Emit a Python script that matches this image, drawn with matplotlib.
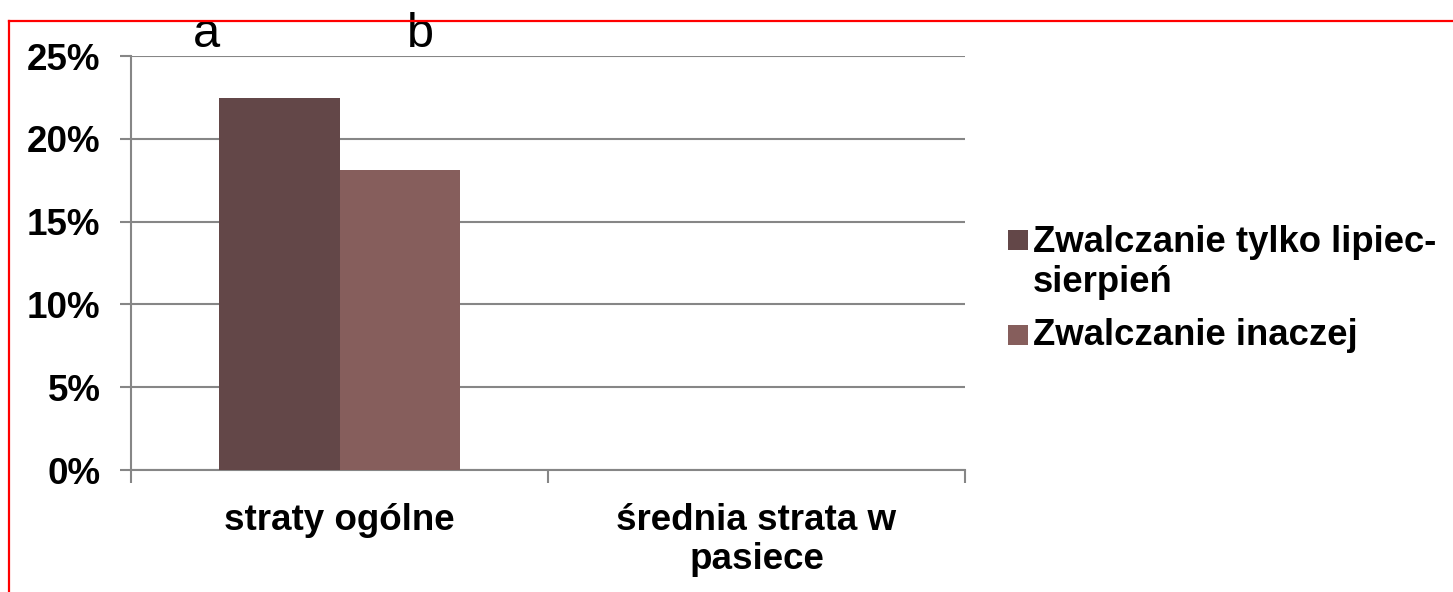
import matplotlib
matplotlib.use("Agg")
import matplotlib.pyplot as plt
from matplotlib.patches import Rectangle
from matplotlib.lines import Line2D
from matplotlib.ticker import FuncFormatter
import numpy as np

# dane
categories = ["straty ogólne", "średnia strata w\npasiece"]
series_names = ["Zwalczanie tylko lipiec-\nsierpień", "Zwalczanie inaczej"]
series_values = [[0.2245, 0.0], [0.181, 0.0]]
series_colors = ["#634748", "#865e5c"]
letters = ["a", "b"]
letter_pos = [(-0.318, 0.2555), (0.195, 0.2555)]
y_ticks = [0, 0.05, 0.10, 0.15, 0.20, 0.25]

plt.rcParams['font.family'] = ['Liberation Sans', 'DejaVu Sans']

W, H = 1453, 592
fig = plt.figure(figsize=(W / 100, H / 100), dpi=100)
ax = fig.add_axes([131 / W, 1 - 470 / H, (965 - 131) / W, (470 - 56) / H])

x = np.arange(len(categories))
bw = 0.288
for i, (vals, col) in enumerate(zip(series_values, series_colors)):
    ax.bar(x + (i - 0.5) * bw, vals, bw, color=col, zorder=3)

grid_c = "#868686"
ax.set_xlim(-0.5, len(categories) - 0.5)
ax.set_ylim(0, 0.25)
ax.set_yticks(y_ticks)
ax.yaxis.set_major_formatter(FuncFormatter(lambda v, p: f"{v * 100:.0f}%"))
ax.grid(axis="y", color=grid_c, linewidth=1.5, zorder=0)
ax.set_axisbelow(True)

ax.set_xticks(x)
ax.set_xticklabels(categories, fontsize=26.5, fontweight="bold", linespacing=1.15)
ax.set_xticks(np.arange(-0.5, len(categories)), minor=True)
ax.tick_params(axis="x", which="major", length=0, pad=24)
ax.tick_params(axis="x", which="minor", length=9, width=1.5, color=grid_c)
ax.tick_params(axis="y", length=8, width=1.5, color=grid_c, pad=14,
               labelsize=26.5)
for lab in ax.get_yticklabels():
    lab.set_fontweight("bold")

for s in ["top", "right"]:
    ax.spines[s].set_visible(False)
for s in ["left", "bottom"]:
    ax.spines[s].set_color(grid_c)
    ax.spines[s].set_linewidth(1.5)

# litery nad slupkami
for t, (lx, ly) in zip(letters, letter_pos):
    ax.text(lx, ly, t, fontsize=35, ha="center", va="baseline", clip_on=False)

# legenda (recznie: kwadrat przy pierwszej linii)
sq_top = [230, 325]
last_base = [292, 345]
for name, col, st, lb in zip(series_names, series_colors, sq_top, last_base):
    fig.add_artist(Rectangle((1008 / W, 1 - (st + 20) / H), 20 / W, 20 / H,
                             transform=fig.transFigure, facecolor=col, edgecolor="none"))
    fig.text(1033 / W, 1 - lb / H, name, fontsize=26.3, fontweight="bold",
             ha="left", va="baseline", linespacing=1.2)

# czerwona ramka
fig.add_artist(Line2D([9 / W, 9 / W], [0, 1 - 21 / H], color="red", linewidth=1.6,
                      transform=fig.transFigure))
fig.add_artist(Line2D([9 / W, 1], [1 - 21 / H, 1 - 21 / H], color="red", linewidth=1.6,
                      transform=fig.transFigure))

fig.savefig("out.png", dpi=100)
